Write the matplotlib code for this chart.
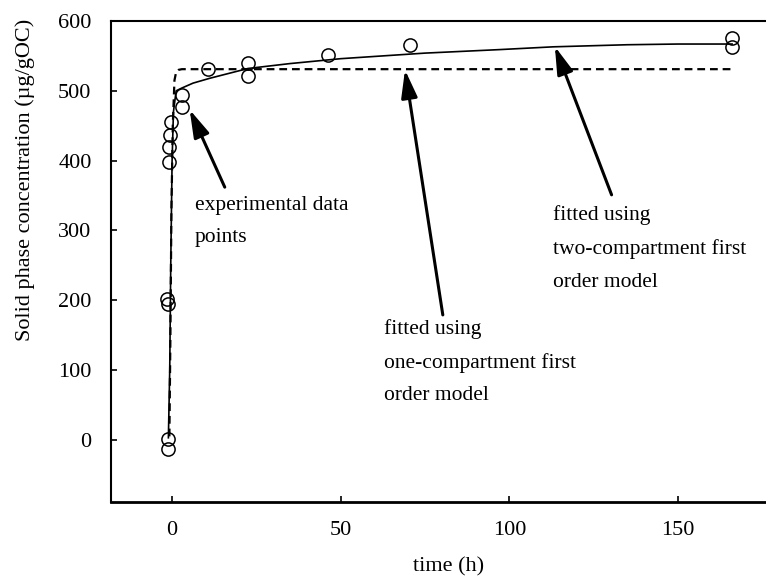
import matplotlib
matplotlib.use("Agg")
import matplotlib.pyplot as plt

plt.rcParams['font.family'] = ['Liberation Serif', 'DejaVu Serif']

# experimental data
t_exp = [-1.1, -1.1, -1.3, -1.0, -0.8, -0.7, -0.4, -0.3, 3.1, 3.0, 10.8, 22.6, 22.6, 46.4, 70.5, 166.0, 166.0]
q_exp = [1, -13, 202, 195, 398, 420, 437, 455, 494, 477, 531, 540, 521, 551, 566, 576, 563]

# one-compartment first order model (dashed)
t_one = [-0.7, -0.4, -0.1, 0.3, 0.8, 1.3, 2.0, 3.0, 10.0, 50.0, 100.0, 166.0]
q_one = [5, 150, 330, 450, 515, 527, 530, 531, 531, 531, 531, 531]

# two-compartment first order model (solid)
t_two = [-1.0, -0.6, -0.3, 0.1, 0.5, 1.3, 3.0, 6.3, 11.3, 22.6, 35.0, 50.0, 75.0, 97.0, 113.0, 135.0, 150.0, 166.0]
q_two = [3, 100, 250, 400, 470, 500, 504, 511, 518, 532, 539, 546, 554, 559, 563, 566, 567, 567]

xticks = [0, 50, 100, 150]
yticks = [0, 100, 200, 300, 400, 500, 600]

fig = plt.figure(figsize=(7.66, 5.77), dpi=100)
ax = fig.add_axes([111/766, 75/577, 1 - 111/766 + 0.002, (502 - 21)/577])

ax.plot(t_one, q_one, color='black', lw=1.6, linestyle=(0, (3.5, 2.2)))
ax.plot(t_two, q_two, color='black', lw=1.2)
ax.plot(t_exp, q_exp, linestyle='none', marker='o', ms=9.5, mfc='none', mec='black', mew=1.1)

ax.set_xlim(-18, 176.5)
ax.set_ylim(-89, 600)
ax.set_xticks(xticks)
ax.set_yticks(yticks)
ax.tick_params(direction='in', length=4.5, width=1.2, labelsize=16, pad=14)
ax.tick_params(axis='y', pad=14)
for s in ['left', 'bottom', 'top']:
    ax.spines[s].set_linewidth(1.5)
ax.spines['bottom'].set_linewidth(2)
ax.spines['right'].set_visible(False)

fig.text(25/766, 1 - 180/577, 'Solid phase concentration (µg/gOC)', rotation=90,
         ha='center', va='center', fontsize=16)
fig.text(449/766, 1 - 567/577, 'time (h)', ha='center', va='center', fontsize=16)

arrow = dict(arrowstyle='-|>,head_length=1.2,head_width=0.35', lw=2.2, color='black',
             shrinkA=0, shrinkB=0, mutation_scale=14)
ax.annotate('', xy=(5.3, 473), xytext=(15.7, 362), arrowprops=arrow)
ax.annotate('', xy=(69.1, 530), xytext=(80.3, 179), arrowprops=arrow)
ax.annotate('', xy=(113.5, 563.5), xytext=(130.3, 351), arrowprops=arrow)

ls = 1.95
ax.text(6.8, 350, 'experimental data\npoints', fontsize=15.5, ha='left', va='top', linespacing=ls)
ax.text(63, 173, 'fitted using\none-compartment first\norder model', fontsize=15.5, ha='left', va='top', linespacing=ls)
ax.text(113, 336, 'fitted using\ntwo-compartment first\norder model', fontsize=15.5, ha='left', va='top', linespacing=ls)

fig.savefig('out.png', dpi=100)
